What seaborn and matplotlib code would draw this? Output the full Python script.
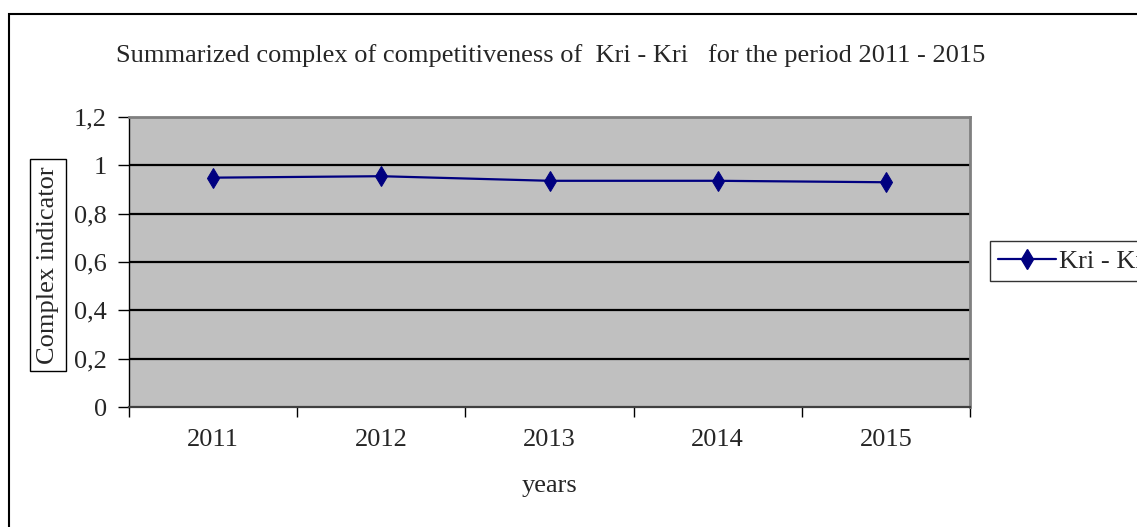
import matplotlib
matplotlib.use('Agg')
import matplotlib.pyplot as plt
import matplotlib.ticker as mticker
from matplotlib.patches import Rectangle
import pandas as pd
import seaborn as sns

years = ['2011', '2012', '2013', '2014', '2015']
kri_kri = [0.949, 0.955, 0.936, 0.936, 0.930]
y_ticks = [0, 0.2, 0.4, 0.6, 0.8, 1.0, 1.2]
y_tick_labels = ['0', '0,2', '0,4', '0,6', '0,8', '1', '1,2']

df = pd.DataFrame({'year': years, 'value': kri_kri, 'series': 'Kri - Kri'})

sns.set_theme(style='white')
plt.rcParams['font.family'] = ['Liberation Serif', 'DejaVu Serif']
FS = 19

fig = plt.figure(figsize=(11.37, 5.27), dpi=100)
fig.patch.set_facecolor('white')
ax = fig.add_axes([129 / 1137, 1 - 407 / 527, 841 / 1137, 290 / 527])
ax.set_facecolor('#C0C0C0')

for v in y_ticks[1:-1]:
  ax.axhline(v, color='black', lw=1.6, zorder=1)

sns.lineplot(data=df, x='year', y='value', hue='series', palette=['#000080'],
             marker='d', markersize=10, markeredgecolor='#000080',
             linewidth=1.6, ax=ax, zorder=3, legend=False)

ax.set_xlim(-0.5, 4.5)
ax.set_ylim(0, 1.2)
ax.set_yticks(y_ticks)
ax.yaxis.set_major_formatter(mticker.FixedFormatter(y_tick_labels))
ax.set_xticks(range(len(years)))
ax.set_xticklabels(years)
ax.set_xticks([i - 0.5 for i in range(len(years) + 1)], minor=True)
ax.tick_params(axis='x', which='major', length=0, pad=16, labelsize=FS)
ax.tick_params(axis='x', which='minor', length=7, width=1, color='black',
               direction='out', bottom=True)
ax.tick_params(axis='y', length=8, width=1, color='black', direction='out',
               left=True, pad=8, labelsize=FS)
ax.set_xlabel('')
ax.set_ylabel('')

for side in ['top', 'right']:
  ax.spines[side].set_color('#808080')
  ax.spines[side].set_linewidth(2)
ax.spines['bottom'].set_color('#404040')
ax.spines['bottom'].set_linewidth(1.6)
ax.spines['left'].set_color('black')
ax.spines['left'].set_linewidth(1)

fig.text(551 / 1137, 1 - 56 / 527,
         'Summarized complex of competitiveness of  Kri - Kri   for the period 2011 - 2015',
         ha='center', va='center', fontsize=FS)
fig.text(549 / 1137, 1 - 486 / 527, 'years', ha='center', va='center', fontsize=FS)
fig.text(48 / 1137, 1 - 265 / 527, 'Complex indicator', rotation=90,
         ha='center', va='center', fontsize=FS,
         bbox=dict(boxstyle='square,pad=0.28', fc='white', ec='black', lw=1))

handles = [plt.Line2D([], [], color='#000080', lw=1.6, marker='d', markersize=10)]
leg = fig.legend(handles, ['Kri - Kri'], loc='center left',
                 bbox_to_anchor=(990 / 1137, 1 - 261 / 527), fontsize=FS,
                 frameon=True, fancybox=False, handlelength=2.2,
                 borderpad=0.3, borderaxespad=0, handletextpad=0.1)
leg.get_frame().set_edgecolor('black')
leg.get_frame().set_linewidth(1)

# outer chart frame
fig.patches.append(Rectangle((9 / 1137, -0.1), 1.2, 1 - 14 / 527 + 0.1,
                             transform=fig.transFigure, fill=False,
                             ec='black', lw=1.5, zorder=0))

plt.savefig('out.png', dpi=100)
plt.close()
